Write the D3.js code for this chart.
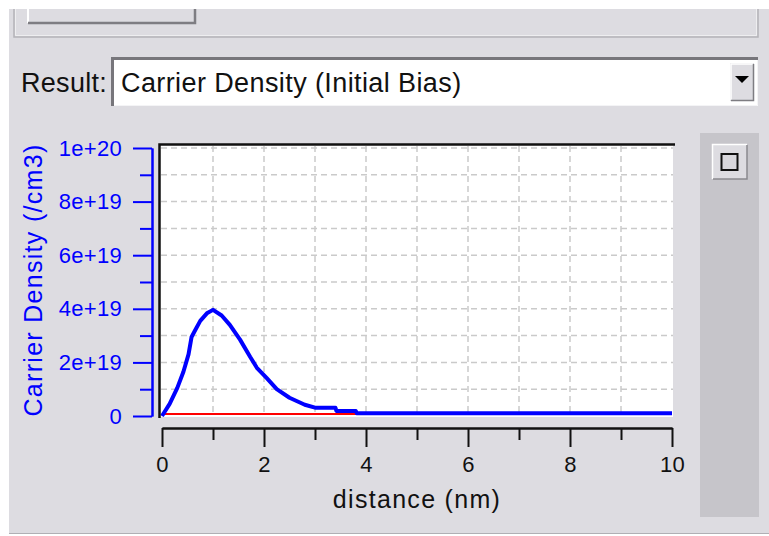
<!DOCTYPE html>
<html lang="en">
<head>
<meta charset="utf-8">
<script src="https://d3js.org/d3.v7.min.js"></script>
<style>
  body { margin: 0; background: #fff; }
  text { font-family: "Liberation Sans", Arial, sans-serif; }
</style>
</head>
<body>
<script>
// carrier density curve (distance in nm, density in /cm3)
var distance = [0, 0.15, 0.3, 0.42, 0.52, 0.58, 0.65, 0.75, 0.88, 1.0, 1.17, 1.33, 1.53, 1.73, 1.86, 2.05, 2.25, 2.5, 2.8, 3.0, 3.4, 3.42, 3.8, 3.82, 10];
var density = [0, 0.45e19, 1.05e19, 1.65e19, 2.3e19, 2.95e19, 3.2e19, 3.55e19, 3.83e19, 3.96e19, 3.75e19, 3.4e19, 2.85e19, 2.2e19, 1.8e19, 1.42e19, 1.0e19, 0.68e19, 0.42e19, 0.31e19, 0.31e19, 0.19e19, 0.19e19, 0.1e19, 0.1e19];
// flat red series
var redDistance = [0.05, 10];
var redDensity = [0.07e19, 0.07e19];

var xTicks = [0, 2, 4, 6, 8, 10];
var xMinor = [1, 3, 5, 7, 9];
var yTicks = [0, 2e19, 4e19, 6e19, 8e19, 1e20];
var yTickLabels = ["0", "2e+19", "4e+19", "6e+19", "8e+19", "1e+20"];
var yMinor = [1e19, 3e19, 5e19, 7e19, 9e19];

var W = 769, H = 536;
var bg = "#dddce1";

var svg = d3.select("body").append("svg")
    .attr("width", W)
    .attr("height", H);

svg.append("rect").attr("width", W).attr("height", H).attr("fill", "#fff");
svg.append("rect").attr("x", 9).attr("y", 9).attr("width", W - 9).attr("height", 524).attr("fill", bg);
svg.append("line").attr("x1", 9).attr("x2", W).attr("y1", 533.5).attr("y2", 533.5)
    .attr("stroke", "#b0afb4").attr("stroke-width", 1);

// top panel (etched frame) with a cut-off button
var frame = svg.append("g").attr("fill", "none");
frame.append("path").attr("d", "M14,9 V37 H758 V9").attr("stroke", "#b4b3b8").attr("stroke-width", 1.5);
frame.append("path").attr("d", "M15.5,9 V35.5 H756.5 V9").attr("stroke", "#eeeef0").attr("stroke-width", 1);
svg.append("rect").attr("x", 27).attr("y", 9).attr("width", 170).attr("height", 15).attr("fill", bg);
svg.append("path").attr("d", "M28,9 V23").attr("stroke", "#fff").attr("stroke-width", 2).attr("fill", "none");
svg.append("path").attr("d", "M28,23 H195 V9").attr("stroke", "#7e7d82").attr("stroke-width", 2.5).attr("fill", "none");

// Result combo box
svg.append("text").attr("x", 21).attr("y", 92)
    .attr("font-size", 27).attr("letter-spacing", 0.3).attr("fill", "#111")
    .text("Result:");
svg.append("rect").attr("x", 111).attr("y", 57).attr("width", 647).attr("height", 49).attr("fill", "#fff");
svg.append("path").attr("d", "M112.5,106 V58.5 H758").attr("stroke", "#77767b").attr("stroke-width", 3).attr("fill", "none");
svg.append("path").attr("d", "M114,105.5 H757.5 V60").attr("stroke", "#f4f4f6").attr("stroke-width", 1).attr("fill", "none");
svg.append("text").attr("x", 121).attr("y", 92)
    .attr("font-size", 27).attr("letter-spacing", 0.4).attr("fill", "#111")
    .text("Carrier Density (Initial Bias)");
svg.append("rect").attr("x", 730).attr("y", 63).attr("width", 24).attr("height", 38).attr("fill", bg);
svg.append("path").attr("d", "M731,100 V64 H753").attr("stroke", "#fff").attr("stroke-width", 1.5).attr("fill", "none");
svg.append("path").attr("d", "M731,100.5 H753.5 V64").attr("stroke", "#7e7d82").attr("stroke-width", 1.5).attr("fill", "none");
svg.append("path").attr("d", "M735,76 L749,76 L742,83 Z").attr("fill", "#000");

// right side strip with a button
svg.append("rect").attr("x", 700).attr("y", 133).attr("width", 59).attr("height", 384).attr("fill", "#c6c5ca");
svg.append("rect").attr("x", 712).attr("y", 144).attr("width", 35).attr("height", 35).attr("fill", bg);
svg.append("path").attr("d", "M712.5,179 V144.5 H747").attr("stroke", "#fff").attr("stroke-width", 1.5).attr("fill", "none");
svg.append("path").attr("d", "M713,179 H747 V145").attr("stroke", "#8a898e").attr("stroke-width", 1.5).attr("fill", "none");
svg.append("rect").attr("x", 721.5).attr("y", 154).attr("width", 16).attr("height", 16)
    .attr("fill", "#d8d7dc").attr("stroke", "#111").attr("stroke-width", 2);

// scales
var x = d3.scaleLinear().domain([0, 10]).range([162, 672]);
var y = d3.scaleLinear().domain([0, 1e20]).range([416, 148]);

// plot area
svg.append("rect").attr("x", 160).attr("y", 144).attr("width", 513).attr("height", 273).attr("fill", "#fff");

var grid = svg.append("g")
    .attr("stroke", "#cacaca").attr("stroke-width", 1.5).attr("stroke-dasharray", "6,4");
grid.selectAll(".gx").data(d3.range(1, 10)).enter().append("line")
    .attr("x1", function(d) { return x(d); }).attr("x2", function(d) { return x(d); })
    .attr("y1", 146).attr("y2", 416);
grid.selectAll(".gy").data(d3.range(1, 11).map(function(i) { return i * 1e19; })).enter().append("line")
    .attr("x1", 161).attr("x2", 673)
    .attr("y1", function(d) { return y(d); }).attr("y2", function(d) { return y(d); });

// curves
var line = d3.line()
    .x(function(d) { return x(d[0]); })
    .y(function(d) { return y(d[1]); });

svg.append("path")
    .datum(d3.zip(redDistance, redDensity))
    .attr("d", line)
    .attr("fill", "none").attr("stroke", "#ff0000").attr("stroke-width", 2);

svg.append("path")
    .datum(d3.zip(distance, density))
    .attr("d", line)
    .attr("fill", "none").attr("stroke", "#0000ff").attr("stroke-width", 4)
    .attr("stroke-linejoin", "round");

// black frame on top and left
svg.append("path").attr("d", "M159.5,418 V144.5 H675")
    .attr("fill", "none").attr("stroke", "#111").attr("stroke-width", 2.5);

// y axis (blue)
var yAxis = svg.append("g").attr("transform", "translate(152,0)")
    .call(d3.axisLeft(y).tickValues(yTicks).tickSize(19).tickSizeOuter(0).tickPadding(11)
        .tickFormat(function(d, i) { return yTickLabels[i]; }));
svg.append("g").attr("transform", "translate(152,0)")
    .call(d3.axisLeft(y).tickValues(yMinor).tickSize(12).tickSizeOuter(0).tickFormat(""));
svg.selectAll("g").filter(function() { return this.getAttribute("transform") === "translate(152,0)"; })
    .call(function(g) {
        g.selectAll("path, line").attr("stroke", "#0000ff").attr("stroke-width", 2);
        g.selectAll("text").attr("fill", "#0000ff").attr("font-size", 22)
            .attr("font-family", "Liberation Sans, Arial, sans-serif").attr("letter-spacing", 0.3);
    });

svg.append("text")
    .attr("transform", "translate(42,280) rotate(-90)")
    .attr("text-anchor", "middle")
    .attr("font-size", 25).attr("letter-spacing", 1.3).attr("fill", "#0000ff")
    .text("Carrier Density (/cm3)");

// x axis (black)
svg.append("g").attr("transform", "translate(0,428)")
    .call(d3.axisBottom(x).tickValues(xTicks).tickSize(19).tickSizeOuter(0).tickPadding(9)
        .tickFormat(d3.format("d")));
svg.append("g").attr("transform", "translate(0,428)")
    .call(d3.axisBottom(x).tickValues(xMinor).tickSize(12).tickSizeOuter(0).tickFormat(""));
svg.selectAll("g").filter(function() { return this.getAttribute("transform") === "translate(0,428)"; })
    .call(function(g) {
        g.selectAll("path, line").attr("stroke", "#111").attr("stroke-width", 2);
        g.selectAll("text").attr("fill", "#111").attr("font-size", 22)
            .attr("font-family", "Liberation Sans, Arial, sans-serif").attr("letter-spacing", 0.3);
    });

svg.append("text")
    .attr("x", 417).attr("y", 508)
    .attr("text-anchor", "middle")
    .attr("font-size", 25).attr("letter-spacing", 1.3).attr("fill", "#111")
    .text("distance (nm)");
</script>
</body>
</html>
